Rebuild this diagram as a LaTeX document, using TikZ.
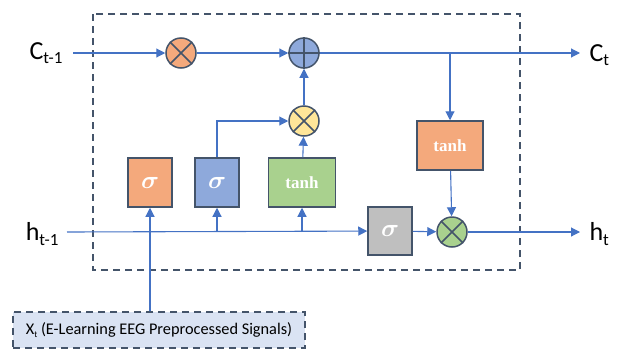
\documentclass[tikz,border=0pt]{standalone}
\usepackage{fontspec}
\setmainfont{Carlito}
\newfontfamily\gatefont{Liberation Serif}
\usetikzlibrary{arrows.meta, positioning}

\definecolor{lineblue}{HTML}{5B7FC6}
\definecolor{tipblue}{HTML}{4472C4}
\definecolor{edgegray}{HTML}{44546A}
\definecolor{gorange}{HTML}{F4A97C}
\definecolor{gblue}{HTML}{8EA9DB}
\definecolor{ggreen}{HTML}{A9D18E}
\definecolor{ggray}{HTML}{BFBFBF}
\definecolor{gyellow}{HTML}{FFE699}
\definecolor{inputblue}{HTML}{DAE3F3}

\newcommand{\lbl}[2]{{\fontsize{26}{30}\selectfont #1\raisebox{-0.35ex}{\fontsize{17}{20}\selectfont #2}}}
\newcommand{\sig}{{\fontsize{26}{26}\selectfont\boldmath$\sigma$}}
\newcommand{\tnh}{{\gatefont\bfseries\fontsize{17}{17}\selectfont tanh}}

\begin{document}
\begin{tikzpicture}[x=1pt, y=-1pt, >={Triangle[length=9pt,width=9pt]},
  flow/.style={draw=lineblue, line width=1.1pt},
  arr/.style={flow, ->, tipblue},
  gate/.style={draw=edgegray, line width=1.5pt, minimum width=44pt, minimum height=49pt, inner sep=0pt, text=white},
  op/.style={circle, draw=edgegray, line width=1.5pt, minimum size=30pt, inner sep=0pt},
  framebox/.style={draw=edgegray, line width=1.5pt, dash pattern=on 7pt off 5pt}]
\useasboundingbox (0,0) rectangle (623,351);

% cell border
\draw[framebox] (93,14) rectangle (520,270);

% labels of the inputs and outputs
\node[anchor=east] (cin) at (66,53) {\lbl{C}{t-1}};
\node[anchor=west] (cout) at (586,55) {\lbl{C}{t}};
\node[anchor=east] (hin) at (62,234) {\lbl{h}{t-1}};
\node[anchor=west] (hout) at (586,234) {\lbl{h}{t}};
\coordinate (cstart) at (73,53);
\coordinate (cend) at (580,53);
\coordinate (hstart) at (67,232);
\coordinate (hend) at (580,232);

% pointwise operations
\node[op, fill=gorange] (mf) at (181,53) {};
\node[op, fill=gblue] (add) at (304,53) {};
\node[op, fill=gyellow] (mi) at (304,121) {};
\node[op, fill=ggreen] (mo) at (452,232) {};
\foreach \o in {mf, mi, mo}{
  \draw[edgegray, line width=1.5pt] (\o.north east) -- (\o.south west)
    (\o.north west) -- (\o.south east);
}
\draw[edgegray, line width=1.5pt] (add.north) -- (add.south) (add.west) -- (add.east);

% gates
\node[gate, fill=gorange] (sf) at (150,182.5) {\sig};
\node[gate, fill=gblue] (si) at (217,182.5) {\sig};
\node[gate, fill=ggreen, minimum width=67pt] (tg) at (302,182.5) {\tnh};
\node[gate, fill=ggray, minimum height=48pt] (so) at (390,231) {\sig};
\node[gate, fill=gorange, minimum width=66pt] (to) at (450,145.5) {\tnh};

% input signals
\node[framebox, fill=inputblue, minimum width=292pt, minimum height=36pt] (xin) at (159,330)
  {\fontsize{16.3}{18}\selectfont X\raisebox{-0.4ex}{\fontsize{9}{10}\selectfont t} (E-Learning EEG Preprocessed Signals)};

% cell state path
\draw[arr] (cstart) -- (mf);
\draw[arr] (mf) -- (add);
\draw[arr] (add) -- (cend);
\coordinate (cbranch) at (add -| to);
\draw[arr] (cbranch) -- (to);
\draw[arr] (mi) -- (add);
\draw[arr] (si.north) |- (mi);
\draw[arr] (tg) -- (mi);

% hidden state path
\draw[arr] (hstart) -- (so);
\draw[arr] (hstart -| si) -- (si);
\draw[arr] (hstart -| tg) -- (tg);
\draw[arr] (sf |- xin.north) -- (sf);
\draw[arr] (to) -- (mo);
\draw[arr] (so) -- (mo);
\draw[arr] (mo) -- (hend);
\end{tikzpicture}
\end{document}
